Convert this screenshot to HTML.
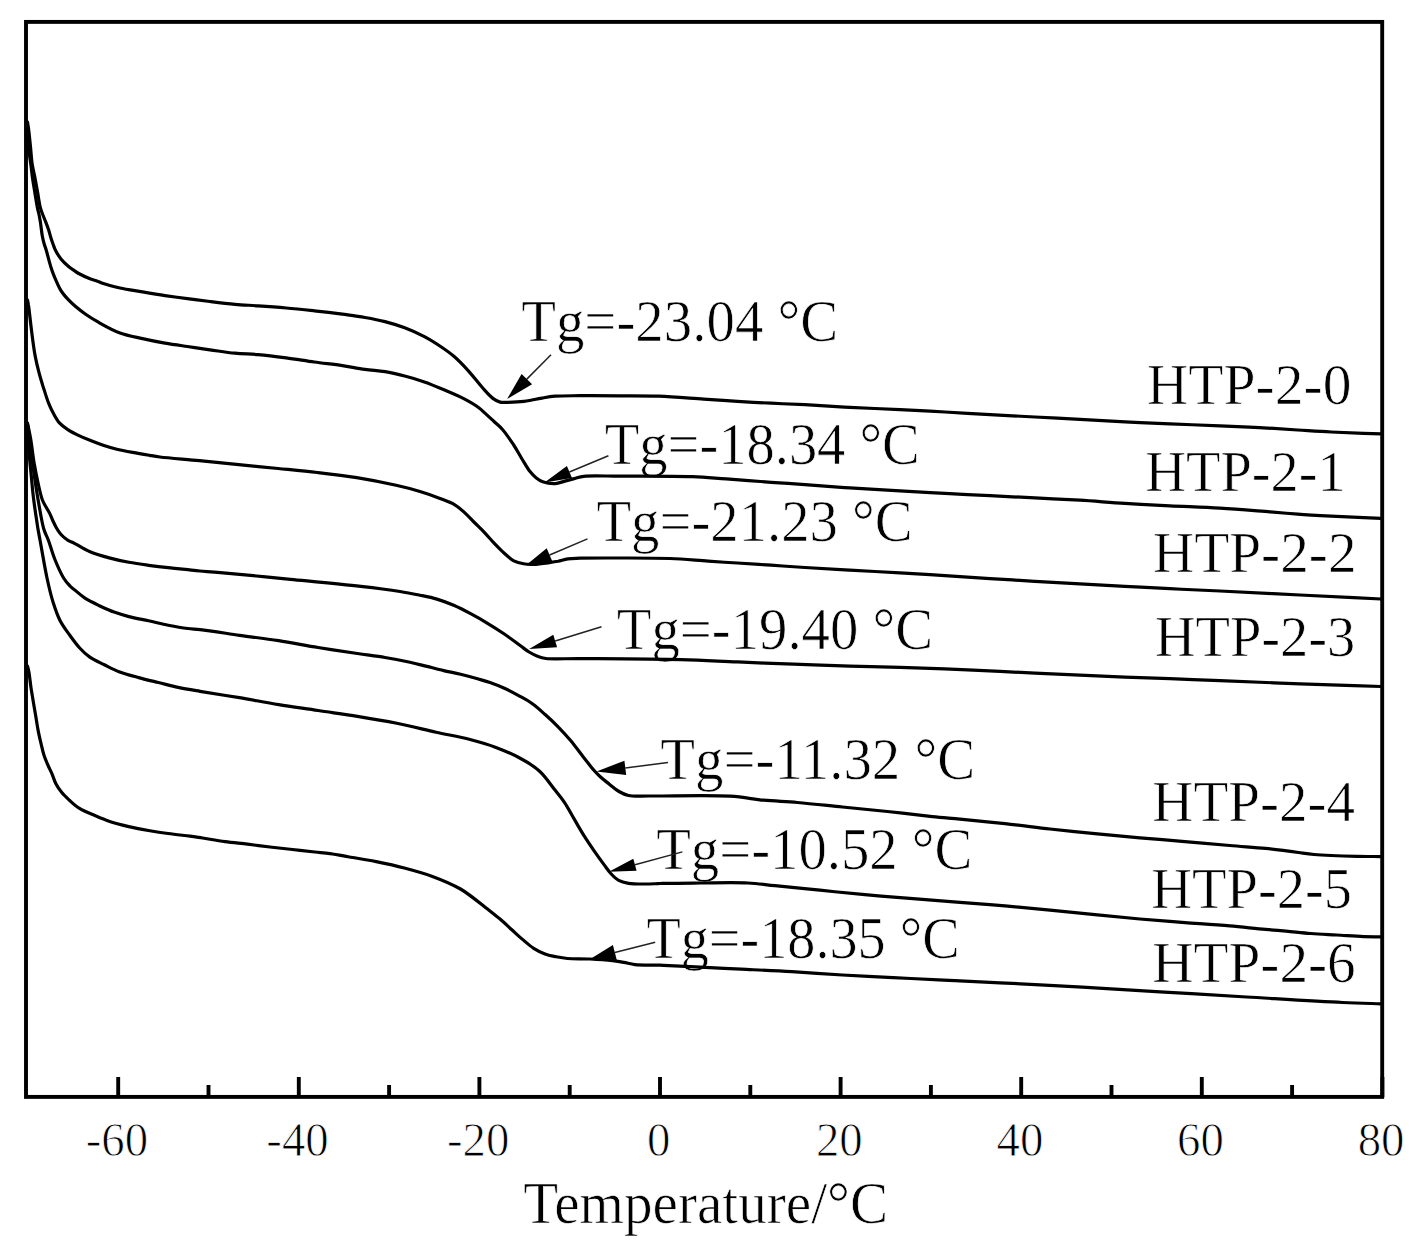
<!DOCTYPE html><html><head><meta charset="utf-8"><style>html,body{margin:0;padding:0;background:#fff;width:1423px;height:1260px;overflow:hidden}svg{display:block}text{font-family:"Liberation Serif",serif;fill:#000;stroke:#fff;stroke-width:0.7px}text.tk{stroke-width:0.9px}</style></head><body>
<svg width="1423" height="1260" viewBox="0 0 1423 1260">
<g fill="none" stroke="#000" stroke-width="3.9" stroke-linecap="square">
<rect x="26" y="21.9" width="1356.2" height="1075"/>
<line x1="118.2" y1="1077" x2="118.2" y2="1097" stroke-linecap="butt"/>
<line x1="208.5" y1="1085" x2="208.5" y2="1097" stroke-linecap="butt"/>
<line x1="298.8" y1="1077" x2="298.8" y2="1097" stroke-linecap="butt"/>
<line x1="389.1" y1="1085" x2="389.1" y2="1097" stroke-linecap="butt"/>
<line x1="479.4" y1="1077" x2="479.4" y2="1097" stroke-linecap="butt"/>
<line x1="569.7" y1="1085" x2="569.7" y2="1097" stroke-linecap="butt"/>
<line x1="660.0" y1="1077" x2="660.0" y2="1097" stroke-linecap="butt"/>
<line x1="750.3" y1="1085" x2="750.3" y2="1097" stroke-linecap="butt"/>
<line x1="840.6" y1="1077" x2="840.6" y2="1097" stroke-linecap="butt"/>
<line x1="930.9" y1="1085" x2="930.9" y2="1097" stroke-linecap="butt"/>
<line x1="1021.2" y1="1077" x2="1021.2" y2="1097" stroke-linecap="butt"/>
<line x1="1111.5" y1="1085" x2="1111.5" y2="1097" stroke-linecap="butt"/>
<line x1="1201.8" y1="1077" x2="1201.8" y2="1097" stroke-linecap="butt"/>
<line x1="1292.1" y1="1085" x2="1292.1" y2="1097" stroke-linecap="butt"/>
<line x1="1382.4" y1="1077" x2="1382.4" y2="1097" stroke-linecap="butt"/>
</g>
<text transform="translate(521.16,340.50) scale(0.9775,1)" font-size="58.2">Tg=-23.04 °C</text>
<text transform="translate(604.87,463.50) scale(0.9706,1)" font-size="58.2">Tg=-18.34 °C</text>
<text transform="translate(596.47,540.70) scale(0.9747,1)" font-size="58.2">Tg=-21.23 °C</text>
<text transform="translate(616.77,648.50) scale(0.9750,1)" font-size="58.2">Tg=-19.40 °C</text>
<text transform="translate(660.36,778.50) scale(0.9771,1)" font-size="58.2">Tg=-11.32 °C</text>
<text transform="translate(656.17,869.00) scale(0.9747,1)" font-size="58.2">Tg=-10.52 °C</text>
<text transform="translate(646.38,957.50) scale(0.9659,1)" font-size="58.2">Tg=-18.35 °C</text>
<text transform="translate(1146.77,404.30) scale(0.9947,1)" font-size="57.9">HTP-2-0</text>
<text transform="translate(1145.31,490.90) scale(0.9736,1)" font-size="57.9">HTP-2-1</text>
<text transform="translate(1152.78,571.80) scale(0.9900,1)" font-size="57.9">HTP-2-2</text>
<text transform="translate(1154.71,655.50) scale(0.9749,1)" font-size="57.9">HTP-2-3</text>
<text transform="translate(1152.29,820.90) scale(0.9851,1)" font-size="57.9">HTP-2-4</text>
<text transform="translate(1151.31,908.20) scale(0.9754,1)" font-size="57.9">HTP-2-5</text>
<text transform="translate(1152.28,981.80) scale(0.9879,1)" font-size="57.9">HTP-2-6</text>
<text transform="translate(116.90,1155.5) scale(0.967,1)" class="tk" font-size="48.4" text-anchor="middle">-60</text>
<text transform="translate(297.50,1155.5) scale(0.967,1)" class="tk" font-size="48.4" text-anchor="middle">-40</text>
<text transform="translate(478.10,1155.5) scale(0.967,1)" class="tk" font-size="48.4" text-anchor="middle">-20</text>
<text transform="translate(658.70,1155.5) scale(0.967,1)" class="tk" font-size="48.4" text-anchor="middle">0</text>
<text transform="translate(839.30,1155.5) scale(0.967,1)" class="tk" font-size="48.4" text-anchor="middle">20</text>
<text transform="translate(1019.90,1155.5) scale(0.967,1)" class="tk" font-size="48.4" text-anchor="middle">40</text>
<text transform="translate(1200.50,1155.5) scale(0.967,1)" class="tk" font-size="48.4" text-anchor="middle">60</text>
<text transform="translate(1381.10,1155.5) scale(0.967,1)" class="tk" font-size="48.4" text-anchor="middle">80</text>
<text transform="translate(523.26,1223.30) scale(0.9675,1)" font-size="59.1">Temperature/°C</text>
<g fill="none" stroke="#000" stroke-width="3.2" stroke-linejoin="round" stroke-linecap="round">
<path d="M27.5,122.0 C27.9,124.7 28.3,126.8 28.7,130.0 C29.3,134.6 29.9,141.3 30.5,147.0 C31.1,152.7 31.4,158.8 32.2,164.3 C33.0,169.3 34.2,173.8 35.1,178.6 C36.0,183.4 36.8,188.1 37.7,192.9 C38.5,197.6 39.2,203.2 40.2,207.1 C40.9,209.8 41.6,211.7 42.5,214.0 C43.4,216.4 44.5,218.9 45.5,221.4 C46.5,224.0 47.6,226.8 48.5,229.5 C49.4,232.2 50.0,235.0 50.8,237.5 C51.5,239.8 52.2,241.8 53.0,244.0 C53.8,246.2 54.4,248.2 55.6,250.5 C57.0,253.3 59.1,256.6 61.2,259.2 C63.3,261.8 65.9,264.2 68.3,266.3 C70.5,268.2 73.1,269.8 75.0,271.1 C76.4,272.1 77.1,272.6 78.7,273.5 C81.5,275.0 87.1,277.7 90.6,279.0 C93.2,280.0 95.4,280.4 97.5,281.2 C99.3,281.9 100.3,282.5 102.5,283.3 C106.5,284.7 113.8,286.6 120.0,288.0 C127.0,289.5 135.0,290.6 142.5,291.9 C150.0,293.2 157.5,294.5 165.0,295.6 C172.5,296.7 179.9,297.7 187.4,298.7 C194.9,299.7 202.2,300.6 209.9,301.5 C218.0,302.5 226.8,303.6 235.0,304.3 C242.9,305.0 250.0,305.3 258.1,305.9 C267.0,306.5 276.8,307.2 286.2,308.0 C295.6,308.8 304.9,309.8 314.3,310.8 C323.7,311.8 333.6,313.0 342.4,314.2 C350.3,315.3 357.6,316.2 364.9,317.5 C371.8,318.7 378.4,319.9 385.0,321.6 C391.6,323.3 398.2,325.3 404.7,327.8 C411.3,330.3 418.4,333.5 424.4,336.6 C429.8,339.4 434.3,342.3 439.1,345.5 C444.1,348.8 449.1,352.2 453.9,356.3 C459.0,360.7 463.8,365.8 468.6,371.1 C473.6,376.6 478.9,383.8 483.4,388.8 C486.9,392.6 490.0,396.3 493.2,398.6 C495.6,400.3 497.6,401.5 500.1,402.1 C502.6,402.7 504.9,402.3 508.0,402.3 C512.4,402.2 519.6,401.9 524.0,401.4 C527.1,401.0 529.2,400.5 532.0,400.0 C535.1,399.4 538.4,398.7 542.0,398.1 C546.0,397.4 549.9,396.6 555.0,396.2 C562.0,395.6 570.7,395.8 580.0,395.7 C591.8,395.6 606.8,395.7 620.0,395.8 C633.0,395.9 645.3,395.7 658.7,396.2 C673.1,396.7 689.8,398.2 703.7,399.1 C715.7,399.9 726.2,400.7 737.4,401.4 C748.6,402.1 759.9,402.7 771.1,403.2 C782.4,403.8 792.8,404.1 804.9,404.7 C818.8,405.4 834.4,406.6 849.8,407.4 C866.1,408.2 883.7,408.8 900.0,409.6 C915.4,410.3 930.0,411.2 945.0,412.0 C960.0,412.8 975.0,413.8 990.0,414.6 C1005.0,415.4 1020.0,416.2 1035.0,417.0 C1050.0,417.8 1065.0,418.5 1080.0,419.3 C1095.0,420.1 1110.0,421.0 1125.0,421.8 C1140.0,422.6 1154.6,423.2 1170.0,423.9 C1186.2,424.6 1204.3,425.1 1220.0,425.8 C1233.9,426.4 1246.4,426.9 1259.4,427.6 C1272.3,428.3 1285.4,429.2 1297.7,430.0 C1309.2,430.7 1318.8,431.4 1331.1,432.0 C1346.1,432.7 1364.4,433.3 1381.0,433.9"/>
<path d="M27.5,136.0 C27.8,140.0 28.0,143.7 28.5,148.0 C29.1,153.0 30.1,159.0 30.8,164.3 C31.5,169.2 31.9,173.8 32.6,178.6 C33.3,183.4 34.1,188.1 34.9,192.9 C35.7,197.6 36.5,203.2 37.3,207.1 C37.8,209.8 38.4,211.7 38.9,214.0 C39.4,216.4 39.8,218.5 40.3,221.4 C41.0,225.4 41.5,231.9 42.3,236.0 C42.9,239.1 43.5,241.6 44.2,244.0 C44.8,246.1 45.4,247.4 46.1,249.7 C47.1,252.9 48.2,257.8 49.3,261.6 C50.3,265.2 51.3,268.6 52.5,271.9 C53.7,275.2 55.0,278.3 56.4,281.4 C57.9,284.6 59.2,288.0 61.2,291.0 C63.2,294.1 65.9,297.1 68.3,299.7 C70.5,302.0 72.4,303.8 75.0,306.0 C78.2,308.7 82.2,311.9 86.0,314.5 C89.7,317.1 93.0,319.1 97.5,321.7 C103.7,325.2 112.3,330.2 120.0,333.0 C127.4,335.7 135.0,336.9 142.5,338.6 C150.0,340.3 157.5,341.8 165.0,343.1 C172.5,344.4 179.9,345.4 187.4,346.5 C194.9,347.6 202.2,348.7 209.9,349.8 C218.0,350.9 226.8,352.4 235.0,353.2 C242.8,354.0 250.0,353.9 258.1,354.6 C267.0,355.4 276.8,356.6 286.2,357.8 C295.6,359.0 304.9,360.7 314.3,362.0 C323.7,363.3 333.6,364.3 342.4,365.6 C350.3,366.8 357.6,368.3 364.9,369.3 C371.8,370.3 378.4,370.5 385.0,371.6 C391.6,372.7 398.2,374.3 404.7,376.0 C411.3,377.7 417.9,379.6 424.4,381.9 C431.0,384.2 437.5,387.0 444.0,389.8 C450.6,392.6 457.7,395.5 463.7,398.6 C469.1,401.4 474.5,404.5 478.5,407.5 C481.6,409.8 483.7,412.1 486.3,414.4 C488.9,416.7 491.4,419.1 494.0,421.5 C496.8,424.1 499.6,426.2 502.5,429.5 C506.2,433.7 510.3,439.9 513.7,445.0 C516.8,449.7 519.2,454.5 522.0,459.0 C524.7,463.3 527.3,468.2 530.0,471.6 C532.1,474.2 534.1,476.3 536.3,478.0 C538.3,479.6 540.1,480.8 542.7,481.7 C546.1,482.9 551.4,483.8 555.3,483.6 C558.7,483.4 561.6,481.9 564.8,481.1 C568.0,480.3 571.1,479.4 574.3,478.6 C577.5,477.8 579.6,476.8 583.8,476.3 C591.9,475.3 605.9,476.2 620.0,476.2 C640.0,476.2 672.8,476.0 692.4,476.7 C705.8,477.2 714.1,478.1 726.2,478.9 C740.1,479.9 757.2,481.3 771.1,482.3 C783.2,483.2 792.8,483.7 804.9,484.6 C818.8,485.6 834.4,486.9 849.8,487.9 C866.1,489.0 883.7,490.0 900.0,490.9 C915.4,491.8 930.0,492.6 945.0,493.4 C960.0,494.2 975.0,494.9 990.0,495.7 C1005.0,496.4 1019.9,497.2 1034.9,497.9 C1049.9,498.7 1064.9,499.3 1079.9,500.2 C1094.9,501.1 1109.9,502.5 1124.9,503.4 C1139.9,504.3 1154.4,505.0 1169.8,505.8 C1186.1,506.6 1203.3,507.1 1220.0,508.1 C1236.7,509.1 1256.0,510.8 1270.2,511.9 C1280.7,512.7 1288.1,513.4 1297.7,514.1 C1308.3,514.9 1318.8,515.5 1331.1,516.2 C1346.1,517.0 1364.4,517.7 1381.0,518.4"/>
<path d="M27.5,300.0 C27.8,301.6 28.1,302.7 28.4,304.8 C29.1,309.0 30.0,317.7 30.7,323.8 C31.4,329.3 32.0,334.4 32.7,339.7 C33.4,345.0 34.1,350.3 35.1,355.6 C36.1,360.9 37.4,366.4 38.7,371.4 C39.8,375.9 41.3,380.7 42.3,384.1 C43.0,386.4 43.4,387.7 44.2,390.0 C45.3,393.4 46.8,398.6 48.4,402.6 C49.9,406.4 51.6,410.1 53.5,413.6 C55.3,416.9 57.0,420.2 59.4,422.9 C61.8,425.5 64.8,427.6 67.8,429.6 C70.9,431.7 74.3,433.3 77.9,435.1 C81.9,437.0 86.4,438.9 90.6,440.6 C94.8,442.3 99.0,443.9 103.2,445.3 C107.4,446.7 111.3,447.9 115.9,449.0 C121.1,450.3 127.1,451.4 132.7,452.4 C138.3,453.5 144.6,454.5 149.6,455.3 C153.5,456.0 155.4,456.4 160.0,457.0 C168.9,458.1 186.3,459.4 199.4,460.7 C212.5,462.0 225.6,463.3 238.7,464.6 C251.8,465.9 265.0,467.2 278.1,468.5 C291.2,469.8 304.3,471.0 317.4,472.5 C330.5,474.0 343.7,475.5 356.8,477.6 C369.9,479.7 384.7,482.7 396.1,485.3 C405.1,487.3 412.4,489.2 420.0,491.5 C427.0,493.6 433.9,496.0 440.0,498.4 C445.3,500.5 450.5,502.2 454.8,504.8 C458.6,507.1 461.4,509.7 464.6,512.6 C468.0,515.6 471.1,519.2 474.4,522.5 C477.7,525.8 481.1,528.9 484.3,532.3 C487.6,535.8 490.8,539.6 494.1,543.1 C497.4,546.5 500.6,550.0 504.0,553.0 C507.2,555.9 510.4,559.0 513.8,560.8 C516.9,562.4 520.3,563.2 523.6,563.8 C526.9,564.4 529.9,564.4 533.5,564.3 C537.9,564.2 543.8,563.4 548.2,562.8 C551.8,562.3 554.8,561.9 558.1,561.3 C561.4,560.6 564.4,559.4 567.9,558.9 C571.7,558.3 574.8,558.4 580.0,558.2 C589.5,557.9 605.9,558.0 620.0,558.0 C635.7,558.0 654.5,557.9 670.0,558.5 C683.6,559.0 696.3,560.4 708.2,561.2 C718.6,561.9 727.3,562.4 737.4,563.0 C748.2,563.7 759.9,564.5 771.1,565.2 C782.4,566.0 792.8,566.7 804.9,567.5 C818.8,568.4 834.4,569.3 849.8,570.2 C866.1,571.1 883.7,571.9 900.0,572.8 C915.4,573.7 930.0,574.7 945.0,575.7 C960.0,576.7 975.0,577.7 990.0,578.6 C1005.0,579.5 1019.9,580.4 1034.9,581.3 C1049.9,582.2 1064.9,583.0 1079.9,583.8 C1094.9,584.6 1109.9,585.5 1124.9,586.3 C1139.9,587.1 1154.4,587.9 1169.8,588.7 C1186.1,589.5 1201.3,590.1 1220.0,591.0 C1243.6,592.1 1273.3,593.7 1300.0,595.0 C1326.9,596.3 1354.0,597.7 1381.0,599.0"/>
<path d="M27.5,423.0 C28.5,428.2 29.6,432.8 30.6,438.6 C31.9,445.9 32.8,455.6 34.2,463.6 C35.5,471.0 37.0,478.5 38.5,485.0 C39.8,490.6 40.7,495.7 42.6,500.5 C44.5,505.2 47.9,509.8 49.8,513.6 C51.2,516.4 51.9,518.6 53.0,521.0 C54.1,523.4 55.3,525.9 56.5,528.0 C57.6,529.9 58.7,531.7 60.0,533.3 C61.2,534.8 62.6,536.2 64.0,537.4 C65.3,538.5 66.4,539.4 68.0,540.3 C69.9,541.5 72.1,542.2 74.8,543.6 C78.8,545.6 84.1,549.2 89.5,551.5 C95.5,554.1 102.6,556.1 109.2,557.9 C115.7,559.7 122.3,561.1 128.9,562.3 C135.4,563.5 142.0,564.4 148.5,565.3 C155.1,566.2 161.6,567.0 168.2,567.7 C174.8,568.4 182.1,569.1 187.9,569.7 C192.4,570.2 195.4,570.6 200.0,571.0 C205.9,571.5 211.5,571.8 220.3,572.6 C236.7,574.0 267.1,577.0 290.5,579.3 C313.9,581.6 340.8,584.1 360.8,586.4 C375.8,588.1 389.1,589.8 400.0,591.5 C407.8,592.7 413.6,593.9 420.0,595.2 C425.9,596.4 431.3,597.4 436.9,599.1 C442.6,600.8 448.2,602.9 453.7,605.3 C459.4,607.8 465.0,610.7 470.6,613.7 C476.3,616.7 481.9,619.9 487.5,623.3 C493.2,626.7 498.7,630.2 504.3,634.0 C510.0,637.9 516.6,643.0 521.2,646.3 C524.3,648.6 526.3,650.3 529.1,652.0 C531.9,653.7 535.1,655.4 538.1,656.5 C540.7,657.5 542.3,658.0 545.9,658.5 C553.2,659.4 565.6,658.5 580.0,658.6 C604.8,658.8 652.4,659.0 681.2,659.7 C702.7,660.2 718.7,661.2 737.4,661.9 C756.1,662.7 774.9,663.5 793.6,664.2 C812.3,664.9 831.6,665.7 849.8,666.2 C867.0,666.7 882.0,666.9 900.0,667.4 C920.8,668.0 945.0,668.9 967.5,669.9 C990.0,670.8 1012.4,672.1 1034.9,673.1 C1057.4,674.2 1079.9,675.3 1102.4,676.2 C1124.9,677.1 1149.0,677.9 1169.8,678.7 C1187.8,679.4 1201.3,680.0 1220.0,680.7 C1243.6,681.6 1273.2,682.8 1300.0,683.8 C1326.9,684.8 1354.0,685.6 1381.0,686.5"/>
<path d="M27.5,424.0 C28.5,431.0 29.5,437.7 30.5,445.0 C31.5,453.0 32.4,462.1 33.5,470.0 C34.5,477.0 35.5,483.8 36.5,490.0 C37.3,495.4 38.0,499.4 39.0,505.0 C40.3,512.1 41.9,522.6 43.8,529.0 C45.1,533.5 46.7,535.8 48.3,540.0 C50.3,545.4 52.2,552.7 54.7,559.0 C57.3,565.4 60.6,573.1 63.6,578.0 C65.7,581.4 67.9,583.9 70.0,586.0 C71.6,587.7 72.9,588.5 74.8,590.0 C77.5,592.2 80.9,595.4 84.6,597.9 C88.9,600.7 94.4,603.3 99.4,605.7 C104.3,608.0 109.1,610.3 114.1,612.1 C119.0,613.9 123.6,615.2 128.9,616.6 C134.9,618.2 142.0,619.4 148.5,620.8 C155.1,622.2 161.6,623.9 168.2,625.2 C174.7,626.5 182.1,627.8 187.9,628.5 C192.4,629.1 194.8,629.0 200.0,629.6 C209.4,630.7 226.3,633.4 239.4,635.3 C252.5,637.1 265.6,638.7 278.7,640.7 C291.8,642.7 305.0,645.4 318.1,647.5 C331.2,649.6 345.5,651.7 357.4,653.5 C367.4,655.0 376.0,656.0 385.0,657.5 C393.6,658.9 402.5,660.6 410.0,662.2 C416.2,663.6 421.3,665.0 426.9,666.4 C432.5,667.8 438.1,669.3 443.7,670.6 C449.3,671.9 455.0,672.9 460.6,674.3 C466.2,675.7 472.3,677.3 477.5,678.8 C482.0,680.1 485.7,681.0 490.0,682.5 C494.8,684.2 500.1,686.2 505.0,688.5 C510.1,690.8 515.2,693.6 520.0,696.3 C524.5,698.8 528.6,701.0 532.7,704.0 C537.1,707.1 541.2,711.0 545.4,714.8 C549.7,718.6 553.9,722.6 558.1,726.8 C562.4,731.2 566.7,735.9 570.8,740.8 C575.1,746.0 579.5,752.1 583.5,757.2 C587.1,761.7 590.6,766.5 593.7,770.0 C596.0,772.6 597.6,774.3 600.0,776.5 C602.7,779.0 606.0,781.5 609.1,784.0 C612.3,786.5 615.6,789.5 619.0,791.5 C622.1,793.3 624.6,794.7 628.5,795.5 C634.1,796.7 640.6,795.9 650.0,796.0 C668.2,796.2 709.0,794.9 730.0,796.2 C743.7,797.0 752.5,799.1 763.7,800.2 C774.9,801.2 785.4,801.5 797.4,802.5 C811.3,803.7 827.4,805.5 842.4,807.0 C857.4,808.5 872.4,809.9 887.4,811.5 C902.4,813.1 919.1,815.2 932.3,816.6 C942.6,817.7 949.7,818.2 960.0,819.2 C973.2,820.5 990.0,822.0 1005.0,823.6 C1020.0,825.2 1035.0,827.3 1050.0,829.0 C1065.0,830.7 1079.9,832.2 1094.9,833.7 C1109.9,835.2 1124.9,836.5 1139.9,837.8 C1154.9,839.1 1169.9,840.3 1184.9,841.6 C1199.9,842.9 1215.7,844.3 1229.8,845.5 C1242.4,846.6 1255.7,847.4 1265.5,848.4 C1272.4,849.1 1277.3,849.7 1283.0,850.4 C1288.3,851.1 1293.3,851.8 1298.5,852.5 C1303.7,853.2 1307.5,853.9 1314.0,854.5 C1324.8,855.4 1345.0,856.0 1357.3,856.3 C1366.4,856.5 1373.1,856.5 1381.0,856.6"/>
<path d="M27.5,426.0 C27.9,432.3 28.2,438.8 28.6,445.0 C29.0,450.8 29.4,456.7 29.9,462.0 C30.3,466.6 30.8,470.5 31.2,475.0 C31.7,479.8 32.1,485.3 32.6,490.0 C33.0,494.2 33.5,498.0 34.0,502.0 C34.5,506.0 35.1,509.8 35.7,514.0 C36.4,518.5 37.1,523.5 37.8,528.0 C38.5,532.2 39.1,534.9 40.0,540.0 C41.7,549.1 44.6,566.8 47.0,578.0 C48.9,586.9 50.7,594.6 53.0,602.0 C55.1,608.6 57.1,614.8 60.0,620.5 C62.8,625.9 66.4,630.6 69.8,635.3 C73.0,639.8 76.2,644.3 79.7,648.0 C82.8,651.4 85.7,654.2 89.5,656.9 C93.8,659.9 99.3,662.3 104.3,664.8 C109.2,667.2 113.7,669.7 119.0,671.7 C125.0,674.0 132.1,675.8 138.7,677.6 C145.2,679.4 151.8,680.9 158.4,682.5 C165.0,684.1 171.3,686.0 178.1,687.4 C185.2,688.9 191.6,689.9 200.0,691.3 C211.2,693.2 226.3,695.5 239.4,697.7 C252.5,699.9 265.6,702.5 278.7,704.6 C291.8,706.7 305.0,708.5 318.1,710.5 C331.2,712.5 344.3,714.3 357.4,716.4 C370.5,718.5 383.7,720.7 396.8,723.3 C409.9,725.9 423.5,729.4 436.1,732.2 C447.8,734.8 459.6,736.8 470.0,739.5 C479.1,741.9 487.0,744.1 495.3,747.2 C503.8,750.4 512.9,754.3 520.6,758.5 C527.6,762.3 534.0,766.1 539.6,771.2 C545.4,776.5 550.3,784.1 554.8,789.8 C558.5,794.4 561.5,797.9 564.6,802.6 C568.0,807.7 571.1,813.8 574.4,819.4 C577.7,825.0 580.9,830.8 584.3,836.1 C587.5,841.2 590.8,846.0 594.1,850.8 C597.4,855.5 601.0,860.5 604.0,864.6 C606.5,867.9 608.3,870.8 610.8,873.5 C613.2,876.1 615.7,878.8 618.7,880.4 C621.6,882.0 624.8,882.7 628.5,883.3 C633.2,884.1 639.8,884.0 645.0,884.0 C649.6,884.0 654.9,883.7 658.1,883.6 C660.0,883.5 660.3,883.5 662.5,883.4 C668.9,883.2 686.7,883.1 700.0,883.0 C715.0,882.9 734.2,882.3 747.9,883.0 C758.2,883.5 764.8,884.7 774.9,885.7 C788.0,887.0 804.9,888.7 819.9,890.2 C834.9,891.7 849.9,893.3 864.9,894.7 C879.9,896.0 894.4,897.1 909.8,898.3 C926.1,899.6 943.7,901.1 960.0,902.4 C975.4,903.6 990.0,904.6 1005.0,905.9 C1020.0,907.2 1035.0,908.7 1050.0,910.2 C1065.0,911.7 1079.9,913.2 1094.9,914.7 C1109.9,916.2 1124.9,917.7 1139.9,919.0 C1154.9,920.3 1169.9,921.4 1184.9,922.6 C1199.9,923.7 1215.7,924.7 1229.8,925.9 C1242.4,927.0 1255.2,928.5 1265.5,929.4 C1273.3,930.1 1278.9,930.5 1286.1,931.1 C1294.0,931.8 1302.5,932.9 1310.9,933.5 C1319.4,934.2 1328.0,934.5 1336.7,935.0 C1345.5,935.5 1355.5,936.3 1363.5,936.6 C1369.9,936.8 1375.2,936.8 1381.0,936.9"/>
<path d="M27.5,666.0 C27.9,667.8 28.4,669.1 28.8,671.4 C29.6,675.5 30.3,683.1 31.1,688.6 C31.9,693.6 32.7,698.1 33.5,702.9 C34.3,707.6 35.1,712.4 35.9,717.1 C36.7,721.9 37.4,726.8 38.3,731.4 C39.1,735.7 40.1,739.8 41.1,743.8 C42.0,747.7 42.8,751.6 44.0,755.2 C45.1,758.6 46.5,761.7 47.8,764.8 C49.1,767.9 50.7,770.8 52.0,773.9 C53.4,777.1 54.3,780.7 55.9,783.8 C57.5,786.9 59.5,789.8 61.8,792.6 C64.1,795.4 66.9,797.9 69.7,800.5 C72.7,803.2 75.7,806.1 79.5,808.4 C83.8,811.1 89.3,813.2 94.3,815.3 C99.2,817.4 103.7,819.4 109.0,821.2 C115.0,823.2 122.1,825.0 128.7,826.6 C135.2,828.1 141.8,829.3 148.4,830.5 C155.0,831.6 161.4,832.6 168.1,833.5 C175.2,834.5 183.7,835.4 190.0,836.2 C194.8,836.8 197.7,837.3 202.5,838.0 C208.9,839.0 217.5,840.6 225.0,841.6 C232.5,842.6 240.0,843.3 247.5,844.2 C255.0,845.1 262.4,846.1 269.9,847.0 C277.4,847.9 284.9,848.7 292.4,849.5 C299.9,850.3 308.1,851.3 314.9,852.0 C320.4,852.6 324.8,852.9 330.0,853.6 C335.8,854.4 341.4,855.5 348.1,856.7 C356.4,858.1 366.9,859.7 376.2,861.6 C385.6,863.5 395.0,865.5 404.3,868.0 C413.7,870.5 423.1,873.0 432.4,876.4 C441.9,879.9 451.4,883.7 460.5,889.0 C470.2,894.7 481.4,904.5 488.7,910.1 C493.3,913.7 496.3,916.0 500.0,919.1 C503.8,922.3 507.5,925.8 511.2,929.2 C515.0,932.6 518.7,936.2 522.5,939.4 C526.2,942.5 529.8,945.8 533.7,948.3 C537.3,950.6 541.2,952.6 545.0,954.0 C548.7,955.4 552.4,956.0 556.2,956.8 C559.9,957.5 563.1,958.1 567.5,958.5 C573.7,959.0 582.5,958.6 590.0,959.0 C597.5,959.4 606.2,960.0 612.4,960.7 C616.8,961.2 619.9,961.7 623.7,962.4 C627.4,963.0 630.4,964.1 634.9,964.6 C641.6,965.3 651.2,964.9 660.0,965.2 C669.7,965.6 679.1,966.1 690.6,966.7 C705.4,967.4 724.3,968.4 741.2,969.2 C758.1,970.0 774.9,970.7 791.8,971.7 C808.7,972.7 825.5,974.0 842.4,975.0 C859.3,976.0 876.1,976.7 893.0,977.6 C909.9,978.4 926.3,979.3 943.6,980.1 C961.9,981.0 979.4,981.8 1000.0,982.8 C1024.8,984.0 1054.8,985.6 1082.2,987.1 C1109.6,988.7 1137.0,990.4 1164.4,992.1 C1191.8,993.7 1218.1,995.3 1246.6,997.0 C1277.4,998.8 1317.8,1001.4 1342.6,1002.5 C1358.3,1003.2 1368.2,1003.4 1381.0,1003.8"/>
</g>
<g stroke="#222" stroke-width="1.5" fill="#000">
<line x1="551" y1="354.8" x2="526.8" y2="379.1"/>
<polygon stroke="none" points="507.1,399 532.1,384.3 521.6,373.9"/>
<line x1="608.4" y1="455.8" x2="569.4" y2="472.0"/>
<polygon stroke="none" points="544.5,482.4 572.0,478.1 566.9,465.9"/>
<line x1="587.5" y1="538.9" x2="549.6" y2="555.0"/>
<polygon stroke="none" points="526.6,564.8 552.5,561.8 546.7,548.2"/>
<line x1="601.5" y1="626.8" x2="555.2" y2="641.0"/>
<polygon stroke="none" points="529.1,649 557.1,647.2 553.3,634.8"/>
<line x1="668" y1="762.5" x2="625.3" y2="767.9"/>
<polygon stroke="none" points="596.5,771.5 626.2,775.0 624.4,760.7"/>
<line x1="682.4" y1="851.9" x2="635.0" y2="864.7"/>
<polygon stroke="none" points="608.9,871.8 636.6,870.7 633.3,858.8"/>
<line x1="655.2" y1="942.2" x2="614.8" y2="952.5"/>
<polygon stroke="none" points="591.1,958.5 616.8,960.0 612.9,944.9"/>
</g>
</svg></body></html>
